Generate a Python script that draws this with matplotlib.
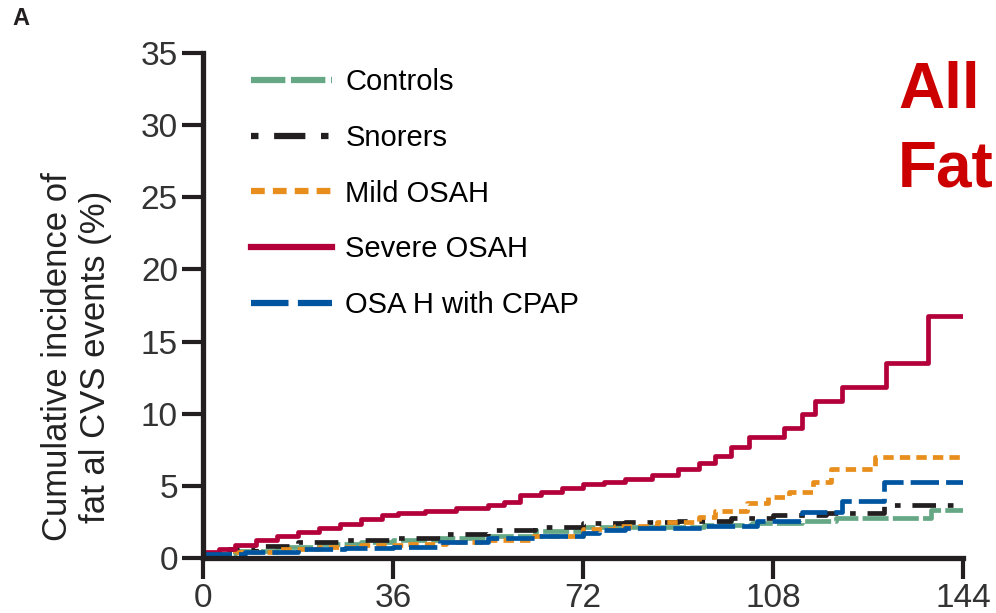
import matplotlib.pyplot as plt
import numpy as np

# months and cumulative incidence (%)
ctrl_t = [0, 6, 14, 22, 30, 36, 45, 54, 63, 72, 84, 95, 104, 113.5, 120, 138, 144]
ctrl_v = [0.3, 0.5, 0.75, 0.95, 1.1, 1.25, 1.4, 1.55, 1.85, 2.15, 2.15, 2.3, 2.4, 2.6, 2.75, 3.3, 3.3]

snor_t = [0, 5, 10, 18, 26, 36, 45, 54, 63, 72, 80, 90, 100, 108, 118, 129, 144]
snor_v = [0.3, 0.6, 0.8, 1.1, 1.25, 1.4, 1.65, 1.95, 2.15, 2.4, 2.5, 2.6, 2.8, 3.0, 3.1, 3.65, 3.65]

mild_t = [0, 6, 14, 22, 30, 38, 46, 54, 62, 72, 78, 86, 94, 97, 103, 107, 111, 115.6, 119, 127.3, 144]
mild_v = [0.3, 0.45, 0.6, 0.75, 0.9, 1.0, 1.1, 1.25, 1.5, 2.0, 2.2, 2.5, 2.85, 3.25, 3.8, 4.2, 4.6, 5.3, 6.15, 7.0, 7.0]

sev_t = [0, 3, 6, 10, 14, 18, 22, 26, 30, 34, 37, 42, 48, 54, 57, 60, 64, 68, 72, 76, 80, 85,
         90, 94, 97, 100, 103.5, 110, 113.5, 116, 121, 129.5, 137.4, 144]
sev_v = [0.4, 0.6, 0.9, 1.25, 1.55, 1.8, 2.05, 2.35, 2.7, 2.95, 3.1, 3.25, 3.45, 3.65, 3.9, 4.35,
         4.6, 4.85, 5.1, 5.3, 5.45, 5.75, 6.2, 6.6, 7.1, 7.7, 8.4, 9.0, 10.0, 10.9, 11.85, 13.5, 16.8, 16.8]

cpap_t = [0, 8, 18, 27, 36, 45, 54, 63, 72, 75, 80, 95, 105, 113.5, 121, 129, 144]
cpap_v = [0.3, 0.45, 0.6, 0.7, 0.75, 1.1, 1.4, 1.55, 1.7, 1.95, 2.05, 2.25, 2.6, 3.2, 3.95, 5.3, 5.3]

xticks = [0, 36, 72, 108, 144]
yticks = [0, 5, 10, 15, 20, 25, 30, 35]

plt.rcParams['font.family'] = ['Liberation Sans', 'DejaVu Sans']
dark = '#231f20'

fig = plt.figure(figsize=(9.96, 6.13), dpi=100)
ax = fig.add_axes([0.2038, 0.0897, 0.7630, 0.8238])

ax.plot(ctrl_t, ctrl_v, drawstyle='steps-post', color='#66a886', lw=3.4,
        dashes=(5.5, 0.9), label='Controls')
ax.plot(snor_t, snor_v, drawstyle='steps-post', color=dark, lw=3.4,
        dashes=(1.2, 2.5, 5, 2.5), label='Snorers')
ax.plot(mild_t, mild_v, drawstyle='steps-post', color='#e88e1c', lw=3.4,
        dashes=(2.2, 1.3), label='Mild OSAH')
ax.plot(sev_t, sev_v, drawstyle='steps-post', color='#b3003a', lw=3.4,
        label='Severe OSAH')
ax.plot(cpap_t, cpap_v, drawstyle='steps-post', color='#0055a0', lw=3.4,
        dashes=(6, 1.5), label='OSA H with CPAP')

ax.set_xlim(0, 144)
ax.set_ylim(0, 35)
ax.set_xticks(xticks)
ax.set_yticks(yticks)
for s in ['top', 'right']:
    ax.spines[s].set_visible(False)
for s in ['left', 'bottom']:
    ax.spines[s].set_linewidth(3.8)
    ax.spines[s].set_color(dark)
ax.tick_params(length=15, width=3, color=dark, labelsize=24, labelcolor='#333333', pad=3)

leg = ax.legend(loc='upper left', bbox_to_anchor=(0.028, 1.022), frameon=False,
                fontsize=21, handlelength=2.8, handletextpad=0.45, labelspacing=0.95)
for h in leg.get_lines():
    h.set_linewidth(4.5)

fig.text(0.077, 0.418, 'Cumulative incidence of\nfat al CVS events (%)', rotation=90,
         ha='center', va='center', multialignment='center', fontsize=25, color='#222222',
         linespacing=1.2, fontstretch='condensed')

fig.text(0.012, 0.988, 'A', fontsize=17, fontweight='bold', va='top', color=dark)
fig.text(0.9016, 0.90, 'All\nFat', fontsize=46, fontweight='bold', color='#cc0000',
         va='top', ha='left', linespacing=1.38)

fig.savefig('out.png', dpi=100)
